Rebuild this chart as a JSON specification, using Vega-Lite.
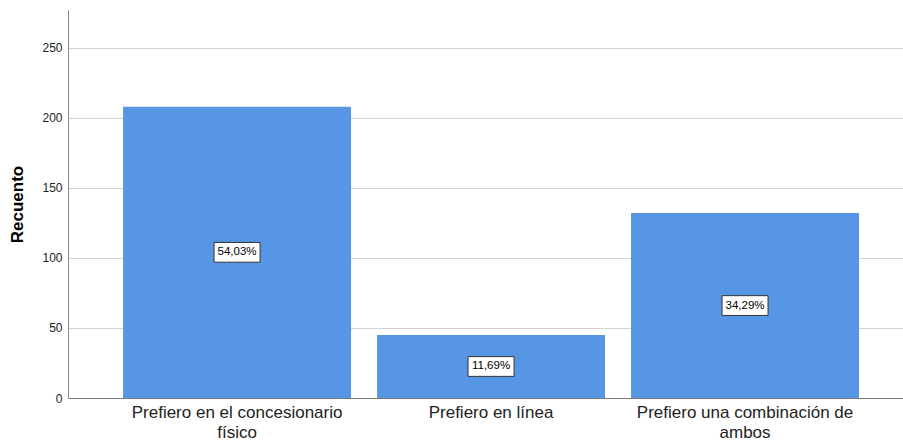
{
  "$schema": "https://vega.github.io/schema/vega-lite/v6.json",
  "width": 835,
  "height": 388,
  "autosize": "none",
  "padding": {"left": 68, "top": 10, "right": 0, "bottom": 46},
  "background": "white",
  "config": {
    "font": "Liberation Sans",
    "view": {"stroke": null}
  },
  "data": {
    "values": [
      {"preferencia": "Prefiero en el concesionario físico", "recuento": 208, "porcentaje": "54,03%"},
      {"preferencia": "Prefiero en línea", "recuento": 45, "porcentaje": "11,69%"},
      {"preferencia": "Prefiero una combinación de ambos", "recuento": 132, "porcentaje": "34,29%"}
    ]
  },
  "encoding": {
    "x": {
      "field": "preferencia",
      "type": "nominal",
      "sort": null,
      "scale": {"paddingInner": 0.1024, "paddingOuter": 0.195, "align": 0.556},
      "axis": {
        "title": null,
        "labelAngle": 0,
        "labelFontSize": 17,
        "labelColor": "#222222",
        "labelPadding": 6,
        "labelLineHeight": 20,
        "labelLimit": 0,
        "ticks": false,
        "domainColor": "#777777",
        "domainWidth": 1,
        "labelExpr": "datum.value == 'Prefiero en el concesionario físico' ? ['Prefiero en el concesionario', 'físico'] : datum.value == 'Prefiero una combinación de ambos' ? ['Prefiero una combinación de', 'ambos'] : datum.value"
      }
    }
  },
  "layer": [
    {
      "mark": {"type": "bar", "color": "#5696e5"},
      "encoding": {
        "y": {
          "field": "recuento",
          "type": "quantitative",
          "scale": {"domain": [0, 277], "nice": false},
          "axis": {
            "title": "Recuento",
            "titleFontSize": 17,
            "titleFontWeight": "bold",
            "titleColor": "#000000",
            "titlePadding": 15,
            "values": [0, 50, 100, 150, 200, 250],
            "labelFontSize": 12,
            "labelColor": "#222222",
            "labelPadding": 6,
            "ticks": false,
            "domainColor": "#888888",
            "domainWidth": 1,
            "gridColor": "#d4d4d4",
            "gridWidth": 1
          }
        }
      }
    },
    {
      "transform": [{"calculate": "datum.recuento / 2", "as": "mitad"}],
      "mark": {
        "type": "point",
        "shape": "M-1,-0.43L1,-0.43L1,0.43L-1,0.43Z",
        "size": 2116,
        "filled": true,
        "fill": "white",
        "stroke": "#333333",
        "strokeWidth": 1,
        "opacity": 1
      },
      "encoding": {
        "y": {"field": "mitad", "type": "quantitative"}
      }
    },
    {
      "transform": [{"calculate": "datum.recuento / 2", "as": "mitad"}],
      "mark": {"type": "text", "fontSize": 11.5, "color": "#000000", "baseline": "middle", "align": "center"},
      "encoding": {
        "y": {"field": "mitad", "type": "quantitative"},
        "text": {"field": "porcentaje"}
      }
    }
  ]
}
